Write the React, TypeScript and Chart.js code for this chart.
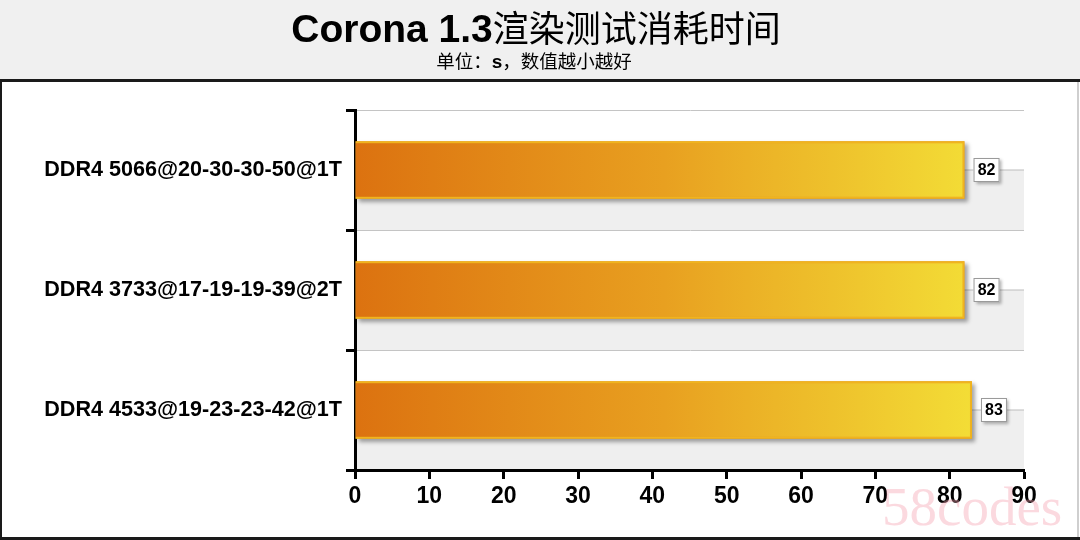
import React, { useEffect, useRef } from "react";
import { Chart, registerables } from "chart.js";

Chart.register(...registerables);

const titleLatin = "Corona 1.3";
const titleCjk = "渲染测试消耗时间";
const subtitleParts = ["单位：", "s", "，数值越小越好"];
const categories = [
  "DDR4 5066@20-30-30-50@1T",
  "DDR4 3733@17-19-19-39@2T",
  "DDR4 4533@19-23-23-42@1T",
];
const values = [82, 82, 83];
const xMin = 0;
const xMax = 90;
const xStep = 10;
const watermark = "58codes";

const W = 1080;
const H = 540;

const framePlugin = {
  id: "frame",
  beforeDraw(chart: any) {
    const ctx = chart.ctx;
    ctx.save();
    ctx.fillStyle = "#ffffff";
    ctx.fillRect(0, 0, W, H);
    ctx.fillStyle = "#f0f0f0";
    ctx.fillRect(0, 0, W, 80);
    ctx.fillStyle = "#1a1a1a";
    ctx.fillRect(0, 79, W, 3);
    ctx.fillRect(0, 80, 2, H - 80);
    ctx.fillRect(0, H - 3, W, 3);
    ctx.fillStyle = "#cfcfcf";
    ctx.fillRect(W - 3, 82, 2, H - 85);

    // title
    ctx.textBaseline = "alphabetic";
    ctx.fillStyle = "#000";
    const f1 = "bold 39px 'Liberation Sans', Arial, sans-serif";
    const f2 = "36px 'Noto Sans CJK SC', sans-serif";
    ctx.font = f1;
    const w1 = ctx.measureText(titleLatin).width;
    ctx.font = f2;
    const w2 = ctx.measureText(titleCjk).width;
    let x = 536 - (w1 + w2) / 2;
    ctx.textAlign = "left";
    ctx.font = f1;
    ctx.fillText(titleLatin, x, 42);
    ctx.font = f2;
    ctx.fillText(titleCjk, x + w1, 42);

    // subtitle
    const fonts = [
      "18.5px 'Noto Sans CJK SC', sans-serif",
      "bold 19px 'Liberation Sans', sans-serif",
      "18.5px 'Noto Sans CJK SC', sans-serif",
    ];
    let total = 0;
    const ws: number[] = [];
    subtitleParts.forEach((p, i) => {
      ctx.font = fonts[i];
      const w = ctx.measureText(p).width;
      ws.push(w);
      total += w;
    });
    x = 534 - total / 2;
    subtitleParts.forEach((p, i) => {
      ctx.font = fonts[i];
      ctx.fillText(p, x, 68);
      x += ws[i];
    });

    // bands
    const area = chart.chartArea;
    const ys = chart.scales.y;
    const n = categories.length;
    const half = (ys.getPixelForValue(1) - ys.getPixelForValue(0)) / 2;
    for (let i = 0; i < n; i++) {
      const c = ys.getPixelForValue(i);
      ctx.fillStyle = "#efefef";
      ctx.fillRect(area.left, c, area.right - area.left, half);
      ctx.fillStyle = "#bdbdbd";
      ctx.fillRect(area.left, Math.round(c) - 0.5, area.right - area.left, 1);
    }
    ctx.restore();
  },
  afterDraw(chart: any) {
    const ctx = chart.ctx;
    ctx.save();
    ctx.font = "55px 'Liberation Serif', serif";
    ctx.fillStyle = "rgba(244,160,175,0.4)";
    ctx.textAlign = "left";
    ctx.textBaseline = "alphabetic";
    ctx.fillText(watermark, 882, 525);
    ctx.restore();
  },
};

const shadowPlugin = {
  id: "barShadow",
  beforeDatasetsDraw(chart: any) {
    const ctx = chart.ctx;
    const meta = chart.getDatasetMeta(0);
    meta.data.forEach((el: any) => {
      const p = el.getProps(["x", "y", "base", "height"], true);
      ctx.save();
      ctx.shadowColor = "rgba(0,0,0,0.35)";
      ctx.shadowBlur = 4;
      ctx.shadowOffsetX = 3;
      ctx.shadowOffsetY = 3;
      ctx.fillStyle = "#e8a020";
      ctx.fillRect(p.base, p.y - p.height / 2, p.x - p.base, p.height);
      ctx.restore();
    });
  },
  afterDatasetsDraw(chart: any) {
    const ctx = chart.ctx;
    const meta = chart.getDatasetMeta(0);
    meta.data.forEach((el: any, i: number) => {
      const bw = 26;
      const bh = 24;
      const bx = el.x + 9;
      const by = el.y - bh / 2;
      ctx.save();
      ctx.shadowColor = "rgba(0,0,0,0.3)";
      ctx.shadowBlur = 3;
      ctx.shadowOffsetX = 2;
      ctx.shadowOffsetY = 2;
      ctx.fillStyle = "#ffffff";
      ctx.fillRect(bx, by, bw, bh);
      ctx.restore();
      ctx.save();
      ctx.strokeStyle = "#9a9a9a";
      ctx.lineWidth = 1;
      ctx.strokeRect(bx + 0.5, by + 0.5, bw - 1, bh - 1);
      ctx.fillStyle = "#000";
      ctx.font = "bold 16px 'Liberation Sans', sans-serif";
      ctx.textAlign = "center";
      ctx.textBaseline = "middle";
      ctx.fillText(String(values[i]), bx + bw / 2, el.y + 1);
      ctx.restore();
    });
  },
};

export default function App() {
  const ref = useRef<HTMLCanvasElement | null>(null);
  useEffect(() => {
    if (!ref.current) return;
    const chart = new Chart(ref.current, {
      type: "bar",
      data: {
        labels: categories,
        datasets: [
          {
            data: values,
            backgroundColor: (c: any) => {
              const ch = c.chart;
              const xs = ch.scales && ch.scales.x;
              if (!xs || !ch.chartArea) return "#e9a020";
              const g = ch.ctx.createLinearGradient(xs.getPixelForValue(0), 0, xs.getPixelForValue(83), 0);
              g.addColorStop(0, "#dc7210");
              g.addColorStop(0.5, "#e8a020");
              g.addColorStop(1, "#f3dd36");
              return g;
            },
            borderColor: "#f0b41e",
            borderWidth: 2,
            barPercentage: 0.48,
            categoryPercentage: 1,
          },
        ],
      },
      options: {
        indexAxis: "y",
        responsive: false,
        animation: false,
        devicePixelRatio: 1,
        layout: { padding: { top: 110, right: 56, bottom: 20, left: 0 } },
        plugins: {
          legend: { display: false },
          tooltip: { enabled: false },
          title: { display: false },
        },
        scales: {
          x: {
            type: "linear",
            min: xMin,
            max: xMax,
            ticks: {
              stepSize: xStep,
              color: "#000",
              padding: 4,
              font: { family: "'Liberation Sans', Arial, sans-serif", size: 23, weight: "bold" },
            },
            grid: { drawOnChartArea: false, drawTicks: true, tickLength: 9, tickColor: "#000", tickWidth: 3 },
            border: { color: "#000", width: 3 },
            afterFit: (s: any) => {
              s.height = 50;
            },
          },
          y: {
            type: "category",
            offset: true,
            ticks: {
              color: "#000",
              padding: 4,
              font: { family: "'Liberation Sans', Arial, sans-serif", size: 21.6, weight: "bold" },
            },
            grid: { offset: true, color: "#c4c4c4", lineWidth: 1, tickLength: 9, tickColor: "#000", tickWidth: 3 },
            border: { color: "#000", width: 3 },
            afterFit: (s: any) => {
              s.width = 355;
            },
          },
        },
      },
      plugins: [framePlugin, shadowPlugin],
    } as any);
    return () => chart.destroy();
  }, []);
  return (
    <div style={{ position: "absolute", left: 0, top: 0, width: W, height: H }}>
      <canvas ref={ref} width={W} height={H} style={{ width: W, height: H, display: "block" }} />
    </div>
  );
}
